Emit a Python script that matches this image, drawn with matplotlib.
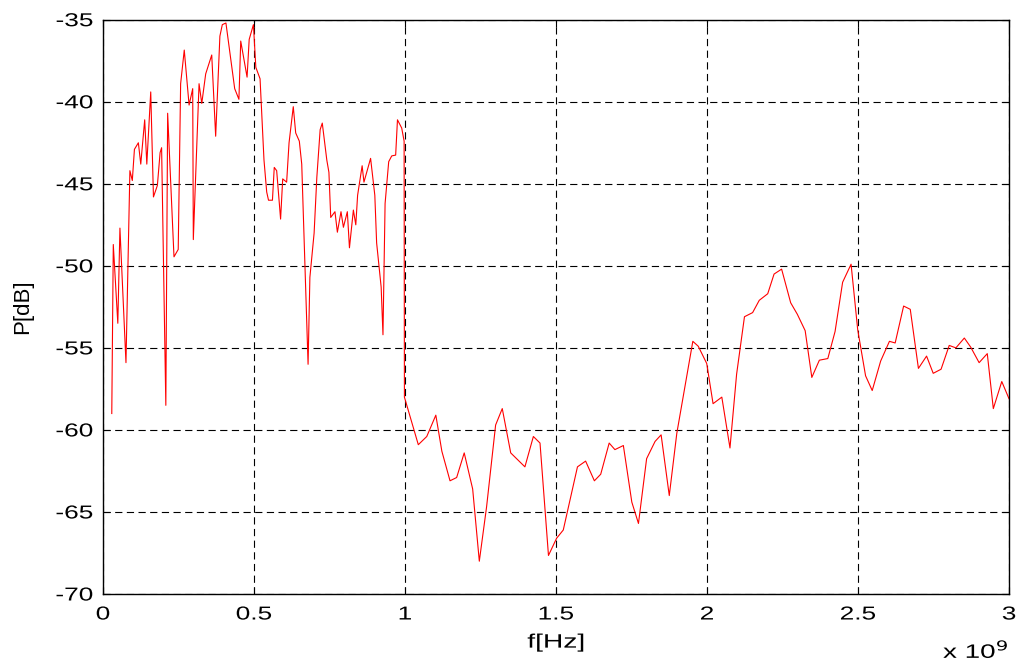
import numpy as np
import matplotlib.pyplot as plt
from matplotlib.ticker import FormatStrFormatter
from matplotlib.patheffects import AbstractPathEffect
from matplotlib.transforms import Affine2D

plt.rcParams['font.family'] = ['Liberation Sans', 'DejaVu Sans']
plt.rcParams['axes.unicode_minus'] = False

# frequency (in units of 1e9 Hz) and power [dB]
f = [0.029, 0.034, 0.049, 0.056, 0.076, 0.089, 0.097, 0.104, 0.117, 0.125,
     0.138, 0.145, 0.158, 0.167, 0.180, 0.189, 0.194, 0.208, 0.214, 0.235,
     0.249, 0.257, 0.269, 0.285, 0.297, 0.299, 0.318, 0.327, 0.340, 0.360,
     0.373, 0.387, 0.395, 0.407, 0.436, 0.450, 0.456, 0.477, 0.484, 0.498,
     0.506, 0.520, 0.533, 0.542, 0.548, 0.561, 0.567, 0.575, 0.588, 0.595,
     0.608, 0.616, 0.630, 0.638, 0.650, 0.658, 0.679, 0.685, 0.699, 0.708,
     0.719, 0.726, 0.741, 0.748, 0.754, 0.768, 0.776, 0.788, 0.796, 0.809,
     0.816, 0.829, 0.837, 0.843, 0.858, 0.864, 0.886, 0.900, 0.906, 0.921,
     0.927, 0.934, 0.946, 0.956, 0.969, 0.975, 0.989, 0.997, 0.998,
     1.044, 1.072, 1.102, 1.122, 1.149, 1.171, 1.196, 1.224, 1.246, 1.270,
     1.300, 1.322, 1.350, 1.375, 1.397, 1.425, 1.447, 1.475, 1.502, 1.524,
     1.571, 1.598, 1.627, 1.648, 1.676, 1.695, 1.723, 1.751, 1.773, 1.800,
     1.828, 1.848, 1.875, 1.900, 1.953, 1.971, 1.999, 2.020, 2.049, 2.076,
     2.098, 2.124, 2.151, 2.173, 2.201, 2.222, 2.247, 2.277, 2.299, 2.325,
     2.347, 2.372, 2.400, 2.424, 2.449, 2.477, 2.499, 2.525, 2.547, 2.575,
     2.604, 2.623, 2.651, 2.673, 2.700, 2.727, 2.749, 2.775, 2.802, 2.824,
     2.852, 2.873, 2.901, 2.928, 2.948, 2.976, 3.000]
p = [-59.0, -48.7, -53.5, -47.7, -55.9, -44.2, -44.8, -42.9, -42.5, -43.8,
     -41.1, -43.8, -39.4, -45.8, -45.1, -43.1, -42.8, -58.5, -40.7, -49.45,
     -49.0, -38.9, -36.85, -40.2, -39.2, -48.4, -38.9, -40.1, -38.3, -37.15,
     -42.1, -36.0, -35.3, -35.2, -39.2, -39.85, -36.3, -38.5, -36.2, -35.3,
     -37.9, -38.6, -43.55, -45.5, -46.0, -46.0, -44.0, -44.2, -47.15, -44.7,
     -44.9, -42.5, -40.3, -41.9, -42.4, -43.8, -56.0, -50.7, -48.0, -44.6,
     -41.7, -41.3, -43.55, -44.3, -47.05, -46.7, -47.95, -46.7, -47.65, -46.7,
     -48.9, -46.6, -47.5, -45.7, -43.9, -44.9, -43.45, -45.7, -48.6, -51.3,
     -54.2, -46.2, -43.65, -43.3, -43.25, -41.1, -41.6, -42.4, -58.0,
     -60.9, -60.4, -59.1, -61.3, -63.1, -62.9, -61.4, -63.6, -68.0, -64.7,
     -59.7, -58.7, -61.4, -61.85, -62.25, -60.4, -60.8, -67.65, -66.6, -66.1,
     -62.25, -61.9, -63.1, -62.7, -60.8, -61.2, -60.95, -64.4, -65.7, -61.75,
     -60.7, -60.3, -64.0, -60.2, -54.6, -54.9, -55.95, -58.4, -58.0, -61.1,
     -56.6, -53.1, -52.85, -52.1, -51.7, -50.5, -50.2, -52.25, -52.95, -53.95,
     -56.8, -55.75, -55.65, -54.0, -51.0, -49.9, -53.9, -56.7, -57.6, -55.8,
     -54.6, -54.7, -52.45, -52.65, -56.25, -55.5, -56.55, -56.3, -54.85, -55.0,
     -54.4, -54.95, -55.9, -55.35, -58.7, -57.05, -58.1]

xticks = [0, 0.5, 1, 1.5, 2, 2.5, 3]
yticks = [-70, -65, -60, -55, -50, -45, -40, -35]


# the reference text looks stretched sideways, widen glyphs around an anchor
class Widen(AbstractPathEffect):
    def __init__(self, sx=1.4, anchor=0.5):
        super().__init__()
        self.sx = sx
        self.anchor = anchor

    def draw_path(self, renderer, gc, tpath, affine, rgbFace=None):
        ext = tpath.get_extents()
        px = ext.x0 + self.anchor * ext.width
        dx, dy = affine.transform((px, ext.y0))
        a = affine + Affine2D().translate(-dx, -dy).scale(self.sx, 1).translate(dx, dy)
        renderer.draw_path(gc, tpath, a, rgbFace)


fig = plt.figure(figsize=(10.22, 6.64), dpi=100)
ax = fig.add_axes([0.1008, 0.1054, 0.8865, 0.8649])
ax.plot(f, p, color='red', lw=0.8)

ax.set_xlim(0, 3)
ax.set_ylim(-70, -35)
ax.set_xticks(xticks)
ax.set_yticks(yticks)
ax.xaxis.set_major_formatter(FormatStrFormatter('%g'))
ax.grid(True, color='black', linestyle=(0, (6.5, 4)), linewidth=0.8)
ax.tick_params(direction='in', top=True, right=True, labelsize=13.5, length=5)
ax.tick_params(axis='y', pad=7)
ax.tick_params(axis='x', pad=9)
for s in ax.spines.values():
    s.set_linewidth(1.0)

ax.set_xlabel('f[Hz]', fontsize=14, labelpad=8,
              path_effects=[Widen(1.45, 0.5)])
ax.set_ylabel('P[dB]', fontsize=16)
ax.yaxis.set_label_coords(-0.077, 0.5)
ax.text(1.0, -0.1114, r'x 10$^9$', transform=ax.transAxes, ha='right',
        va='baseline', fontsize=14, path_effects=[Widen(1.43, 1.0)])

for lbl in ax.get_xticklabels():
    lbl.set_path_effects([Widen(1.4, 0.5)])
for lbl in ax.get_yticklabels():
    lbl.set_path_effects([Widen(1.4, 1.0)])

fig.savefig('out.png', dpi=100)
